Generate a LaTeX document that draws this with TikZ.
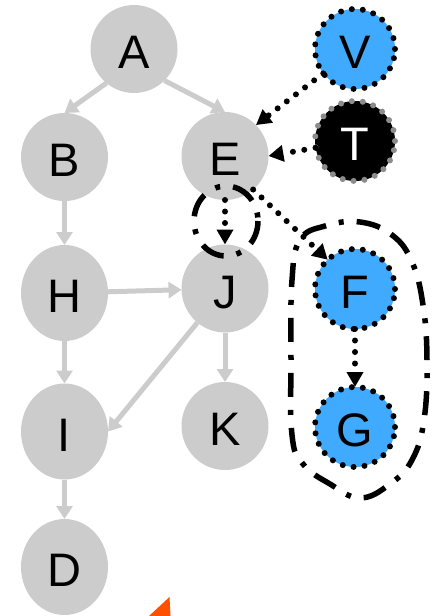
\documentclass[tikz,border=0pt]{standalone}
\usepackage{fontspec}
\setmainfont{Liberation Sans}
\usetikzlibrary{arrows.meta,shapes.geometric}
\definecolor{ngray}{RGB}{204,204,204}
\definecolor{nblue}{RGB}{64,170,255}
\definecolor{dgray}{RGB}{140,140,140}
\definecolor{norange}{RGB}{255,80,0}
\begin{document}
\begin{tikzpicture}[x=1pt,y=-1pt,
  base/.style={ellipse, inner sep=0pt, outer sep=0pt, font=\fontsize{47}{50}\selectfont,
    text height=39pt, text depth=0pt, minimum width=87pt, minimum height=88pt},
  gnode/.style={base, fill=ngray},
  tall/.style={minimum height=96pt},
  bnode/.style={base, fill=nblue, minimum width=80pt, minimum height=80pt},
  dotborder/.style={draw=#1, line width=6pt, dash pattern=on 0pt off 11pt, line cap=round},
  garrow/.style={draw=ngray, line width=5pt, -{Triangle[width=16pt,length=13pt]}},
  darrow/.style={draw=black, line width=6pt, dash pattern=on 0pt off 11.5pt, line cap=round,
    -{Triangle[width=16pt,length=15pt]}},
  dashdot/.style={draw=black, line width=5.5pt, dash pattern=on 24pt off 13pt on 5pt off 13pt}
]
\useasboundingbox (0,0) rectangle (435,616);

% gray nodes
\node[gnode] (A) at (134,49) {A};
\node[gnode] (B) at (64.5,157) {B};
\node[gnode] (E) at (225,156) {E};
\node[gnode,tall] (H) at (64.5,293) {H};
\node[gnode] (J) at (225,288.5) {J};
\node[gnode,tall] (I) at (64.5,431.5) {I};
\node[gnode] (K) at (225,426) {K};
\node[gnode,tall] (D) at (64.5,567) {D};

% coloured nodes
\node[bnode, dotborder=black] (V) at (355,49) {V};
\node[base, fill=black, text=white, minimum width=80pt, minimum height=80pt, dotborder=dgray] (T) at (355,141) {T};
\node[bnode, dotborder=black] (F) at (355,289) {F};
\node[bnode, dotborder=black] (G) at (355,427) {G};

% gray edges
\draw[garrow] (A.231) -- (B.north);
\draw[garrow] (A.314) -- (E.north);
\draw[garrow] (B) -- (H);
\draw[garrow] (H) -- (J);
\draw[garrow] (H) -- (I);
\draw[garrow] (J.231) -- (I.east);
\draw[garrow] (J) -- (K);
\draw[garrow] (I) -- (D);

% dotted edges
\draw[darrow] (V) -- (E.45);
\draw[darrow] (T) -- (E.east);
\draw[darrow] (E) -- (J);
\draw[darrow] (E.310) -- (F.133);
\draw[darrow] (F) -- (G);

% dash-dot outlines
\draw[dashdot] (226,221) ellipse [x radius=32, y radius=35];
\draw[dashdot] plot[smooth cycle, tension=0.7] coordinates {
  (360,222) (392,235) (412,262) (423,305) (427,360) (424,420) (412,460) (390,484)
  (360,498) (330,484) (303,464) (292,435) (291,360) (292,280) (300,240) (325,226)};

% orange fragment
\fill[norange] (169.5,597) -- (170.5,616) -- (149,616) -- cycle;
\end{tikzpicture}
\end{document}
